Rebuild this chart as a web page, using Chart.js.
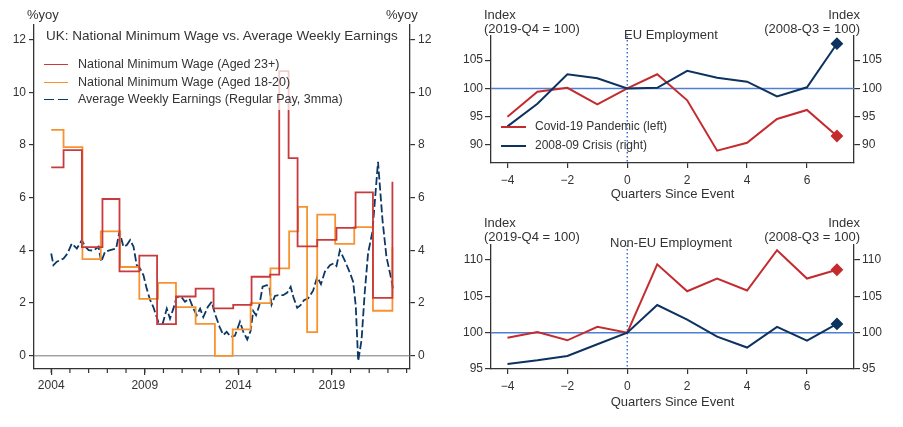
<!DOCTYPE html>
<html>
<head>
<meta charset="utf-8">
<script src="https://cdn.jsdelivr.net/npm/chart.js@4.4.1/dist/chart.umd.min.js"></script>
<style>
  body { margin: 0; background: #fff; }
  #wrap { position: relative; width: 903px; height: 427px; overflow: hidden;
          font-family: "Liberation Sans", Arial, sans-serif; color: #333; }
  .box { position: absolute; }
  .t { position: absolute; white-space: nowrap; font-size: 13px; line-height: 15px; }
  .r { text-align: right; }
  .leg { position: absolute; height: 0; }
</style>
</head>
<body>
<div id="wrap">
  <div class="box" style="left:0;top:0;width:450px;height:427px"><canvas id="wage"></canvas></div>
  <div class="box" style="left:450px;top:0;width:453px;height:210px"><canvas id="eu"></canvas></div>
  <div class="box" style="left:450px;top:210px;width:453px;height:217px"><canvas id="noneu"></canvas></div>

  <!-- left panel texts -->
  <div class="t" style="left:27px;top:7px">%yoy</div>
  <div class="t" style="left:386px;top:7px">%yoy</div>
  <div style="position:absolute;left:40px;top:50px;width:295px;height:60px;background:rgba(255,255,255,0.75)"></div>
  <div class="t" style="left:46px;top:28px;font-size:13.5px">UK: National Minimum Wage vs. Average Weekly Earnings</div>
  <div class="leg" style="left:44px;top:64px;width:24px;border-top:1.8px solid #c93a3c"></div>
  <div class="t" style="left:78px;top:57px;font-size:12.5px">National Minimum Wage (Aged 23+)</div>
  <div class="leg" style="left:44px;top:81.5px;width:24px;border-top:1.8px solid #f7922e"></div>
  <div class="t" style="left:78px;top:74.5px;font-size:12.5px">National Minimum Wage (Aged 18-20)</div>
  <div class="leg" style="left:44px;top:98.5px;width:24px;height:1.8px;background:repeating-linear-gradient(90deg,#0c3866 0 10px,transparent 10px 14px)"></div>
  <div class="t" style="left:78px;top:91.5px;font-size:12.5px">Average Weekly Earnings (Regular Pay, 3mma)</div>

  <!-- top right texts -->
  <div class="t" style="left:484px;top:7px">Index</div>
  <div class="t" style="left:484px;top:21px">(2019-Q4 = 100)</div>
  <div class="t r" style="right:43px;top:7px">Index</div>
  <div class="t r" style="right:43px;top:21px">(2008-Q3 = 100)</div>
  <div class="t" style="left:624px;top:27px">EU Employment</div>
  <div class="leg" style="left:501px;top:126px;width:25px;border-top:2px solid #c42b2f"></div>
  <div class="t" style="left:535px;top:119px;font-size:12px">Covid-19 Pandemic (left)</div>
  <div class="leg" style="left:501px;top:144.5px;width:25px;border-top:2px solid #0d3260"></div>
  <div class="t" style="left:535px;top:138px;font-size:12px">2008-09 Crisis (right)</div>

  <!-- bottom right texts -->
  <div class="t" style="left:484px;top:215px">Index</div>
  <div class="t" style="left:484px;top:229px">(2019-Q4 = 100)</div>
  <div class="t r" style="right:43px;top:215px">Index</div>
  <div class="t r" style="right:43px;top:229px">(2008-Q3 = 100)</div>
  <div class="t" style="left:610px;top:235px">Non-EU Employment</div>
</div>

<script>
// ---- left panel: minimum wage vs earnings (%yoy) ----
const nmw23Dates = [2004.0, 2004.66, 2005.64, 2006.74, 2007.65, 2008.71, 2009.66, 2010.67, 2011.72, 2012.68,
                    2013.73, 2014.71, 2015.7, 2016.19, 2016.69, 2017.17, 2018.22, 2019.25, 2020.27, 2021.2, 2022.24];
const nmw23 = [7.15, 7.8, 4.12, 5.95, 3.2, 3.8, 1.2, 2.25, 2.55, 1.8,
               1.93, 3.0, 3.08, 10.8, 7.5, 4.15, 4.4, 4.85, 6.2, 2.2, 6.6];

const nmw1820Dates = [2004.0, 2004.66, 2005.67, 2006.65, 2007.68, 2008.71, 2009.71, 2010.67, 2011.72, 2012.75,
                      2013.7, 2014.66, 2015.72, 2016.72, 2017.2, 2017.68, 2018.22, 2019.18, 2020.2, 2021.2, 2022.24];
const nmw1820 = [8.57, 7.92, 3.67, 4.72, 3.37, 2.16, 2.77, 1.85, 1.21, 0,
                 1.0, 2.0, 3.32, 4.72, 5.65, 0.9, 5.36, 4.25, 4.88, 1.71, 4.12];

const aweDates = [2004.0, 2004.12, 2004.3, 2004.66, 2004.87, 2005.1, 2005.37, 2005.64, 2005.82, 2006.0,
                  2006.26, 2006.53, 2006.67, 2006.88, 2007.15, 2007.47, 2007.65, 2007.86, 2008.04, 2008.22,
                  2008.4, 2008.57, 2008.75, 2008.93, 2009.1, 2009.29, 2009.46, 2009.73, 2009.96, 2010.18,
                  2010.35, 2010.53, 2010.71, 2010.98, 2011.15, 2011.39, 2011.6, 2011.78, 2011.96, 2012.13,
                  2012.37, 2012.58, 2012.76, 2013.0, 2013.2, 2013.38, 2013.59, 2013.82, 2014.09, 2014.27,
                  2014.48, 2014.66, 2014.8, 2014.95, 2015.12, 2015.3, 2015.52, 2015.66, 2015.78, 2015.96,
                  2016.14, 2016.4, 2016.62, 2016.8, 2016.94, 2017.15, 2017.33, 2017.51, 2017.74, 2018.0,
                  2018.22, 2018.42, 2018.63, 2018.9, 2019.11, 2019.25, 2019.43, 2019.7, 2019.97, 2020.14,
                  2020.28, 2020.41, 2020.59, 2020.76, 2020.94, 2021.17, 2021.47, 2021.71, 2021.92, 2022.19, 2022.28];
const awe = [3.88, 3.44, 3.57, 3.69, 3.88, 4.26, 4.07, 4.39, 4.14, 4.01,
             3.99, 4.14, 3.57, 3.95, 4.01, 4.07, 4.71, 4.14, 4.2, 4.39,
             4.14, 3.44, 3.31, 3.06, 2.56, 2.11, 1.85, 1.28, 1.22, 1.79,
             1.41, 1.79, 2.24, 2.21, 2.05, 2.17, 1.79, 1.54, 1.79, 1.47,
             1.85, 2.05, 1.58, 1.1, 0.79, 0.91, 0.72, 0.76, 1.29, 0.91,
             0.62, 0.95, 1.7, 1.54, 1.9, 2.62, 2.68, 2.64, 1.94, 2.27,
             2.3, 2.3, 2.4, 2.62, 2.24, 1.82, 1.92, 2.11, 2.18, 2.47,
             2.99, 2.72, 3.19, 3.44, 3.51, 3.41, 4.0, 3.6, 3.15, 2.81,
             1.9, -0.2, 0.6, 2.4, 3.9, 4.7, 7.36, 5.15, 3.76, 2.87, 2.49];

const yearLabels = [2004, 2009, 2014, 2019];
const yearTicks = [2004, 2005, 2006, 2007, 2008, 2009, 2010, 2011, 2012, 2013, 2014,
                   2015, 2016, 2017, 2018, 2019, 2020, 2021, 2022, 2023];
const pctTicks = [0, 2, 4, 6, 8, 10, 12];

// ---- right panels: employment index around events ----
const quarters = [-4, -3, -2, -1, 0, 1, 2, 3, 4, 5, 6, 7];
const euCovid  = [95.0, 99.4, 100.1, 97.2, 100, 102.5, 97.9, 89.0, 90.4, 94.6, 96.2, 91.6];
const euCrisis = [93.3, 97.3, 102.5, 101.8, 100, 100.1, 103.1, 101.9, 101.2, 98.6, 100.2, 107.9];
const nonEuCovid  = [99.3, 100.1, 98.95, 100.8, 100, 109.4, 105.7, 107.45, 105.8, 111.35, 107.45, 108.65];
const nonEuCrisis = [95.7, 96.2, 96.8, 98.4, 100, 103.8, 101.8, 99.45, 97.95, 100.8, 98.9, 101.2];
const quarterTicks = [-4, -2, 0, 2, 4, 6];
const euTicks = [90, 95, 100, 105];
const nonEuTicks = [95, 100, 105, 110];

const RED = '#c93a3c', ORANGE = '#f7922e', NAVY = '#0c3866';
const RED2 = '#c42b2f', NAVY2 = '#0d3260', AXIS = '#333';

Chart.defaults.font.family = '"Liberation Sans", Arial, sans-serif';
Chart.defaults.font.size = 12;
Chart.defaults.color = '#333';

function pts(xs, ys) {
  return xs.map((x, i) => ({x: x, y: ys[i]}));
}

function fixedTicks(list) {
  return s => { s.ticks = list.map(v => ({value: v})); };
}

function axisStyle(len) {
  return {drawOnChartArea: false, tickLength: len, color: AXIS, lineWidth: 1.2};
}

// zero line and short yearly ticks for the wage chart
const wageExtras = {
  id: 'wageExtras',
  beforeDatasetsDraw(chart) {
    const {ctx, chartArea, scales} = chart;
    const y0 = scales.y.getPixelForValue(0);
    ctx.save();
    ctx.strokeStyle = '#777';
    ctx.lineWidth = 1;
    ctx.beginPath();
    ctx.moveTo(chartArea.left, y0);
    ctx.lineTo(chartArea.right, y0);
    ctx.stroke();
    ctx.restore();
  },
  afterDraw(chart) {
    const {ctx, scales} = chart;
    const x = scales.x;
    ctx.save();
    ctx.strokeStyle = AXIS;
    ctx.lineWidth = 1.2;
    yearTicks.forEach(yr => {
      const px = x.getPixelForValue(yr);
      ctx.beginPath();
      ctx.moveTo(px, x.top);
      ctx.lineTo(px, x.top + 4);
      ctx.stroke();
    });
    ctx.restore();
  }
};

new Chart('wage', {
  type: 'line',
  data: {
    datasets: [
      {label: 'National Minimum Wage (Aged 23+)', data: pts(nmw23Dates, nmw23), borderColor: RED,
       borderWidth: 1.8, stepped: 'before', pointRadius: 0},
      {label: 'National Minimum Wage (Aged 18-20)', data: pts(nmw1820Dates, nmw1820), borderColor: ORANGE,
       borderWidth: 1.8, stepped: 'before', pointRadius: 0},
      {label: 'Average Weekly Earnings (Regular Pay, 3mma)', data: pts(aweDates, awe), borderColor: NAVY,
       borderWidth: 1.8, borderDash: [8, 3], pointRadius: 0}
    ]
  },
  options: {
    responsive: true,
    maintainAspectRatio: false,
    animation: false,
    layout: {padding: {top: 25, bottom: 28, left: 0, right: 0}},
    plugins: {legend: {display: false}, tooltip: {enabled: false}},
    scales: {
      x: {type: 'linear', min: 2003.08, max: 2023.18, afterBuildTicks: fixedTicks(yearLabels),
          ticks: {callback: v => String(v), padding: 3, maxRotation: 0, autoSkip: false},
          grid: axisStyle(6), border: {color: AXIS, width: 1.3},
          afterFit: s => { s.height = 30; }},
      y: {position: 'left', min: -0.5, max: 12.55, afterBuildTicks: fixedTicks(pctTicks),
          ticks: {padding: 3}, grid: axisStyle(5), border: {color: AXIS, width: 1.3},
          afterFit: s => { s.width = 34; }},
      y2: {position: 'right', min: -0.5, max: 12.55, afterBuildTicks: fixedTicks(pctTicks),
           ticks: {padding: 3}, grid: axisStyle(5), border: {color: AXIS, width: 1.3},
           afterFit: s => { s.width = 40; }}
    }
  },
  plugins: [wageExtras]
});

// reference lines: index = 100 and event quarter
function refLines(hValue, vValue) {
  return {
    id: 'refLines',
    beforeDatasetsDraw(chart) {
      const {ctx, chartArea, scales} = chart;
      const py = scales.y.getPixelForValue(hValue);
      const px = scales.x.getPixelForValue(vValue);
      ctx.save();
      ctx.strokeStyle = '#4f7fd2';
      ctx.lineWidth = 1.5;
      ctx.beginPath();
      ctx.moveTo(chartArea.left, py);
      ctx.lineTo(chartArea.right, py);
      ctx.stroke();
      ctx.strokeStyle = '#3d6cc9';
      ctx.setLineDash([1.5, 2.5]);
      ctx.beginPath();
      ctx.moveTo(px, chartArea.top);
      ctx.lineTo(px, chartArea.bottom);
      ctx.stroke();
      ctx.restore();
    }
  };
}

function quarterLabel(v) {
  return v < 0 ? '\u2212' + Math.abs(v) : String(v);
}

function employmentChart(id, covid, crisis, yMin, yMax, yTicks, padTop, xHeight, padBottom) {
  const lastOnly = quarters.map((q, i) => i === quarters.length - 1 ? 5 : 0);
  return new Chart(id, {
    type: 'line',
    data: {
      datasets: [
        {label: 'Covid-19 Pandemic (left)', data: pts(quarters, covid), borderColor: RED2, backgroundColor: RED2,
         borderWidth: 2, pointStyle: 'rectRot', pointRadius: lastOnly, yAxisID: 'y', order: 1},
        {label: '2008-09 Crisis (right)', data: pts(quarters, crisis), borderColor: NAVY2, backgroundColor: NAVY2,
         borderWidth: 2, pointStyle: 'rectRot', pointRadius: lastOnly, yAxisID: 'y2', order: 0}
      ]
    },
    options: {
      responsive: true,
      maintainAspectRatio: false,
      animation: false,
      layout: {padding: {top: padTop, bottom: padBottom, left: 0, right: 0}},
      plugins: {legend: {display: false}, tooltip: {enabled: false}},
      scales: {
        x: {type: 'linear', min: -4.55, max: 7.57, afterBuildTicks: fixedTicks(quarterTicks),
            ticks: {callback: quarterLabel, padding: 5, maxRotation: 0, autoSkip: false},
            title: {display: true, text: 'Quarters Since Event', font: {size: 13}, padding: {top: 0, bottom: 4}},
            grid: axisStyle(5), border: {color: AXIS, width: 1.3},
            afterFit: s => { s.height = xHeight; }},
        y: {position: 'left', min: yMin, max: yMax, afterBuildTicks: fixedTicks(yTicks),
            ticks: {padding: 2}, grid: axisStyle(6), border: {color: AXIS, width: 1.3},
            afterFit: s => { s.width = 41; }},
        y2: {position: 'right', min: yMin, max: yMax, afterBuildTicks: fixedTicks(yTicks),
             ticks: {padding: 2}, grid: axisStyle(6), border: {color: AXIS, width: 1.3},
             afterFit: s => { s.width = 49; }}
      }
    },
    plugins: [refLines(100, 0)]
  });
}

employmentChart('eu', euCovid, euCrisis, 86.83, 109.26, euTicks, 36, 43, 4);
employmentChart('noneu', nonEuCovid, nonEuCrisis, 95, 112.06, nonEuTicks, 35, 45, 13);
</script>
</body>
</html>
